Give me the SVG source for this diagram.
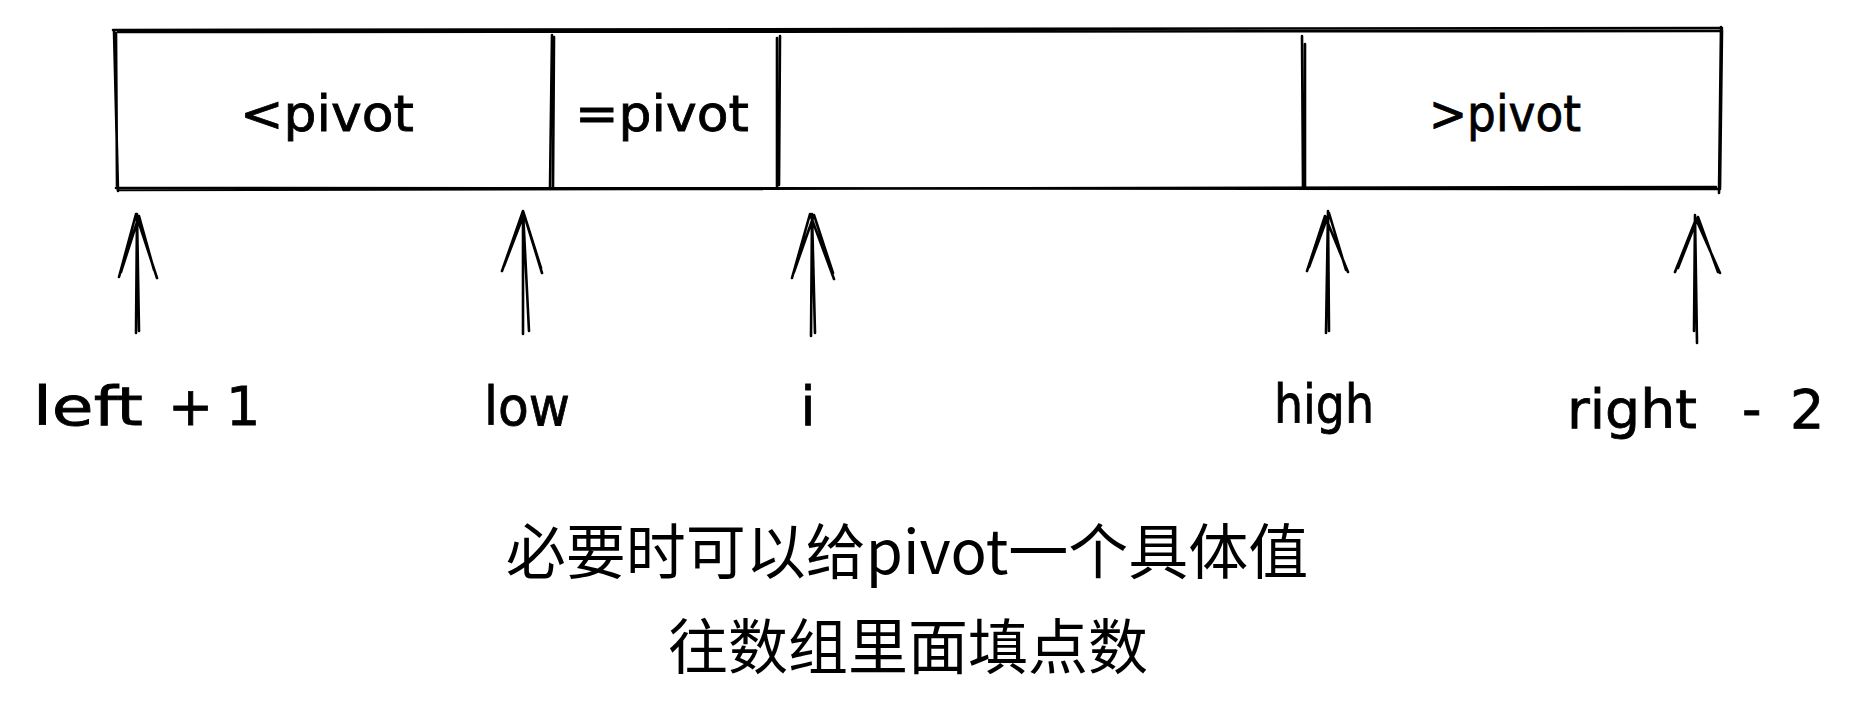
<svg xmlns="http://www.w3.org/2000/svg" width="1861" height="720" viewBox="0 0 1861 720">
<style>
.s{fill:none;stroke:#000;stroke-width:2.6;stroke-linecap:round;stroke-linejoin:round}
.hand{font-family:"DejaVu Sans","Liberation Sans",sans-serif;fill:#000;stroke:#000;stroke-width:0.8;text-anchor:middle}
.box{font-size:50px}
.lbl{font-size:54px}
.st{text-anchor:start}
.cjk{font-family:"Noto Sans CJK SC","Noto Sans",sans-serif;font-size:60px;fill:#000;text-anchor:middle}
</style>
<rect width="1861" height="720" fill="#fff"/>
<g id="array">
  <path class="s" d="M113 30 L1722 28 M118 32 L1720 31"/>
  <path class="s" d="M116 188 L1720 189 M118 190 L1716 187"/>
  <path class="s" d="M114 31 L118 191 M116 33 L117 186"/>
  <path class="s" d="M1721 27 L1719 193 M1722 30 L1720 188"/>
</g>
<g id="seg-less">
  <path class="s" d="M552 35 L550 187 M554 37 L553 188"/>
  <text class="hand box" x="327" y="131" textLength="174" lengthAdjust="spacingAndGlyphs">&lt;pivot</text>
</g>
<g id="seg-equal">
  <path class="s" d="M777 38 L777 187 M780 36 L779 185"/>
  <text class="hand box" x="662" y="131" textLength="174" lengthAdjust="spacingAndGlyphs">=pivot</text>
</g>
<g id="seg-unknown">
  <path class="s" d="M1302 36 L1303 187 M1305 44 L1305 188"/>
</g>
<g id="seg-greater">
  <text class="hand box" x="1505" y="131" textLength="152" lengthAdjust="spacingAndGlyphs">&gt;pivot</text>
</g>
<g id="connectors">
  <path class="s" d="M136 333 L137 214 L139 331 M119 277 L136 214 L157 278 M121 272 L139 216 L154 270"/>
  <path class="s" d="M523 334 L523 211 L529 331 M502 271 L523 211 L542 273 M504 266 L524 214 L541 268"/>
  <path class="s" d="M811 336 L812 214 L815 333 M792 278 L810 214 L834 279 M794 272 L814 215 L833 273"/>
  <path class="s" d="M1326 333 L1328 211 L1329 331 M1307 271 L1325 216 L1348 272 M1309 267 L1329 213 L1346 270"/>
  <path class="s" d="M1694 331 L1695 215 L1697 343 M1675 272 L1696 219 L1720 273 M1678 268 L1698 217 L1718 272"/>
</g>
<g id="label-left">
  <text class="hand lbl st" y="425"><tspan x="33" textLength="110" lengthAdjust="spacingAndGlyphs">left</tspan><tspan x="168">+</tspan><tspan x="226">1</tspan></text>
</g>
<g id="label-low">
  <text class="hand lbl" x="527" y="425" textLength="86" lengthAdjust="spacingAndGlyphs">low</text>
</g>
<g id="label-i">
  <text class="hand lbl" x="808" y="425">i</text>
</g>
<g id="label-high">
  <text class="hand lbl" x="1324" y="423" textLength="100" lengthAdjust="spacingAndGlyphs">high</text>
</g>
<g id="label-right">
  <text class="hand lbl st" y="428"><tspan x="1567" textLength="130" lengthAdjust="spacingAndGlyphs">right</tspan><tspan x="1742">-</tspan><tspan x="1790">2</tspan></text>
</g>
<g id="note">
  <text class="cjk" x="907" y="574">必要时可以给pivot一个具体值</text>
  <text class="cjk" x="908" y="669">往数组里面填点数</text>
</g>
</svg>
